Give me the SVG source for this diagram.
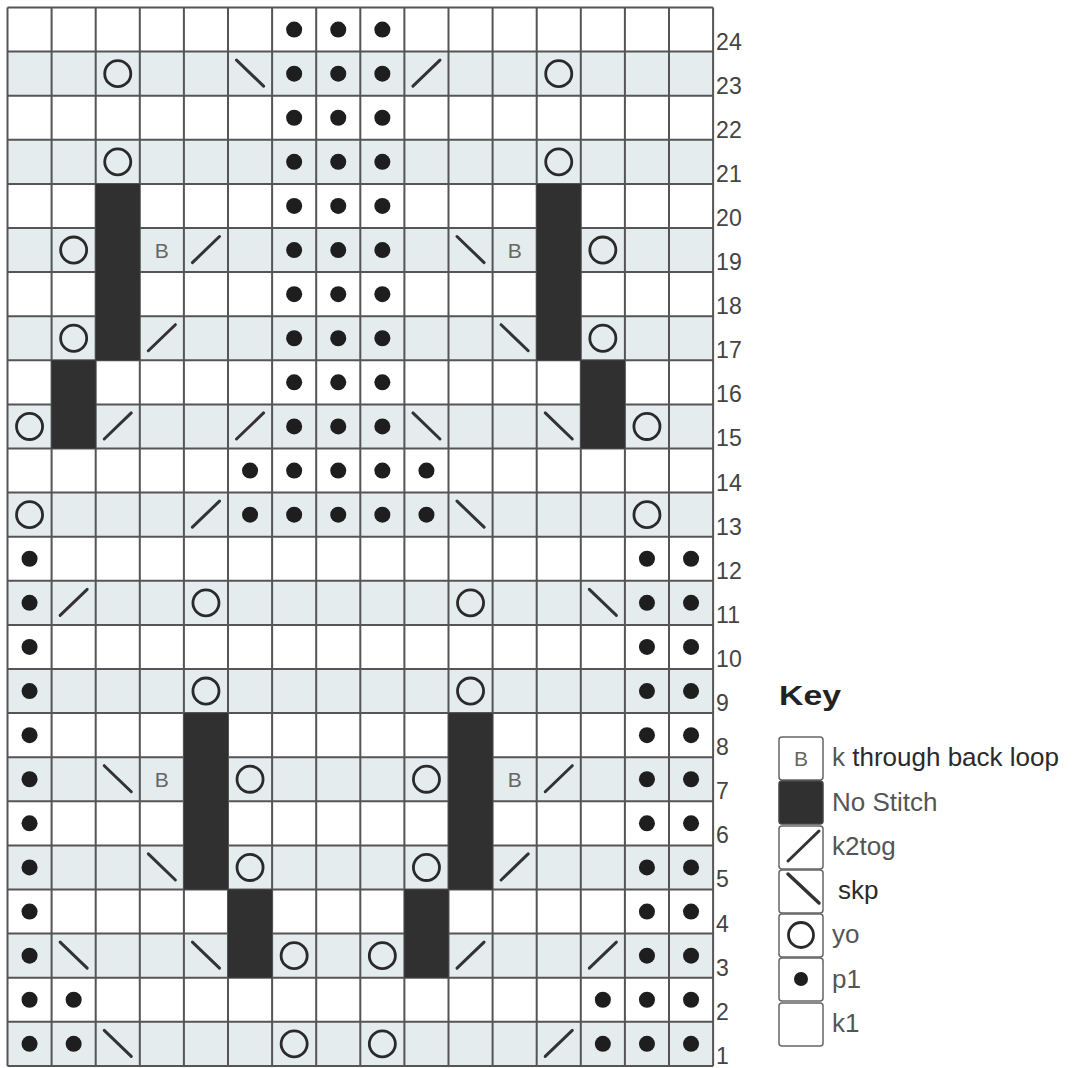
<svg xmlns="http://www.w3.org/2000/svg" width="1076" height="1068" viewBox="0 0 1076 1068">
<style>
.bg{fill:#e4ecee}
.ns{fill:#303030}
.grid{fill:none;stroke:#555;stroke-width:2}
.yo{fill:none;stroke:#2a2a2a;stroke-width:2.8}
.p{fill:#1e1e1e}
.ln{stroke:#333;stroke-width:3;stroke-linecap:round}
.b{font-family:"Liberation Sans",Arial,sans-serif;font-size:21px;fill:#666;text-anchor:middle}
.num{font-family:"Liberation Sans",Arial,sans-serif;font-size:23px;fill:#444}
.lbl{font-family:"Liberation Sans",Arial,sans-serif;font-size:26px;fill:#555}
.kb{fill:#fff;stroke:#666;stroke-width:1.5}
</style>
<defs>
<g id="s-yo"><circle cx="22" cy="22" r="13" class="yo"/></g>
<g id="s-p"><circle cx="22" cy="22" r="8" class="p"/></g>
<g id="s-k2"><line x1="8.5" y1="34.5" x2="35.5" y2="8.5" class="ln"/></g>
<g id="s-skp"><line x1="8.5" y1="8.5" x2="35.5" y2="34.5" class="ln"/></g>
<g id="s-B"><text x="22" y="30" class="b">B</text></g>
</defs>
<rect width="1076" height="1068" fill="#fff"/>
<g id="chart" transform="translate(7.5 7.5) scale(1.00227)">
<g id="row-bands">
<rect class="bg" x="0" y="44" width="704" height="44"/>
<rect class="bg" x="0" y="132" width="704" height="44"/>
<rect class="bg" x="0" y="220" width="704" height="44"/>
<rect class="bg" x="0" y="308" width="704" height="44"/>
<rect class="bg" x="0" y="396" width="704" height="44"/>
<rect class="bg" x="0" y="484" width="704" height="44"/>
<rect class="bg" x="0" y="572" width="704" height="44"/>
<rect class="bg" x="0" y="660" width="704" height="44"/>
<rect class="bg" x="0" y="748" width="704" height="44"/>
<rect class="bg" x="0" y="836" width="704" height="44"/>
<rect class="bg" x="0" y="924" width="704" height="44"/>
<rect class="bg" x="0" y="1012" width="704" height="44"/>
</g>
<path id="grid" class="grid" d="M0 0V1056M44 0V1056M88 0V1056M132 0V1056M176 0V1056M220 0V1056M264 0V1056M308 0V1056M352 0V1056M396 0V1056M440 0V1056M484 0V1056M528 0V1056M572 0V1056M616 0V1056M660 0V1056M704 0V1056M0 0H704M0 44H704M0 88H704M0 132H704M0 176H704M0 220H704M0 264H704M0 308H704M0 352H704M0 396H704M0 440H704M0 484H704M0 528H704M0 572H704M0 616H704M0 660H704M0 704H704M0 748H704M0 792H704M0 836H704M0 880H704M0 924H704M0 968H704M0 1012H704M0 1056H704"/>
<g id="no-stitch">
<rect class="ns" x="88" y="176" width="44" height="176"/>
<rect class="ns" x="528" y="176" width="44" height="176"/>
<rect class="ns" x="44" y="352" width="44" height="88"/>
<rect class="ns" x="572" y="352" width="44" height="88"/>
<rect class="ns" x="176" y="704" width="44" height="176"/>
<rect class="ns" x="440" y="704" width="44" height="176"/>
<rect class="ns" x="220" y="880" width="44" height="88"/>
<rect class="ns" x="396" y="880" width="44" height="88"/>
</g>
<g id="stitches">
<!-- row 24 -->
<use href="#s-p" x="264" y="0"/><use href="#s-p" x="308" y="0"/><use href="#s-p" x="352" y="0"/>
<!-- row 23 -->
<use href="#s-yo" x="88" y="44"/><use href="#s-skp" x="220" y="44"/><use href="#s-p" x="264" y="44"/><use href="#s-p" x="308" y="44"/><use href="#s-p" x="352" y="44"/><use href="#s-k2" x="396" y="44"/><use href="#s-yo" x="528" y="44"/>
<!-- row 22 -->
<use href="#s-p" x="264" y="88"/><use href="#s-p" x="308" y="88"/><use href="#s-p" x="352" y="88"/>
<!-- row 21 -->
<use href="#s-yo" x="88" y="132"/><use href="#s-p" x="264" y="132"/><use href="#s-p" x="308" y="132"/><use href="#s-p" x="352" y="132"/><use href="#s-yo" x="528" y="132"/>
<!-- row 20 -->
<use href="#s-p" x="264" y="176"/><use href="#s-p" x="308" y="176"/><use href="#s-p" x="352" y="176"/>
<!-- row 19 -->
<use href="#s-yo" x="44" y="220"/><use href="#s-B" x="132" y="220"/><use href="#s-k2" x="176" y="220"/><use href="#s-p" x="264" y="220"/><use href="#s-p" x="308" y="220"/><use href="#s-p" x="352" y="220"/><use href="#s-skp" x="440" y="220"/><use href="#s-B" x="484" y="220"/><use href="#s-yo" x="572" y="220"/>
<!-- row 18 -->
<use href="#s-p" x="264" y="264"/><use href="#s-p" x="308" y="264"/><use href="#s-p" x="352" y="264"/>
<!-- row 17 -->
<use href="#s-yo" x="44" y="308"/><use href="#s-k2" x="132" y="308"/><use href="#s-p" x="264" y="308"/><use href="#s-p" x="308" y="308"/><use href="#s-p" x="352" y="308"/><use href="#s-skp" x="484" y="308"/><use href="#s-yo" x="572" y="308"/>
<!-- row 16 -->
<use href="#s-p" x="264" y="352"/><use href="#s-p" x="308" y="352"/><use href="#s-p" x="352" y="352"/>
<!-- row 15 -->
<use href="#s-yo" x="0" y="396"/><use href="#s-k2" x="88" y="396"/><use href="#s-k2" x="220" y="396"/><use href="#s-p" x="264" y="396"/><use href="#s-p" x="308" y="396"/><use href="#s-p" x="352" y="396"/><use href="#s-skp" x="396" y="396"/><use href="#s-skp" x="528" y="396"/><use href="#s-yo" x="616" y="396"/>
<!-- row 14 -->
<use href="#s-p" x="220" y="440"/><use href="#s-p" x="264" y="440"/><use href="#s-p" x="308" y="440"/><use href="#s-p" x="352" y="440"/><use href="#s-p" x="396" y="440"/>
<!-- row 13 -->
<use href="#s-yo" x="0" y="484"/><use href="#s-k2" x="176" y="484"/><use href="#s-p" x="220" y="484"/><use href="#s-p" x="264" y="484"/><use href="#s-p" x="308" y="484"/><use href="#s-p" x="352" y="484"/><use href="#s-p" x="396" y="484"/><use href="#s-skp" x="440" y="484"/><use href="#s-yo" x="616" y="484"/>
<!-- row 12 -->
<use href="#s-p" x="0" y="528"/><use href="#s-p" x="616" y="528"/><use href="#s-p" x="660" y="528"/>
<!-- row 11 -->
<use href="#s-p" x="0" y="572"/><use href="#s-k2" x="44" y="572"/><use href="#s-yo" x="176" y="572"/><use href="#s-yo" x="440" y="572"/><use href="#s-skp" x="572" y="572"/><use href="#s-p" x="616" y="572"/><use href="#s-p" x="660" y="572"/>
<!-- row 10 -->
<use href="#s-p" x="0" y="616"/><use href="#s-p" x="616" y="616"/><use href="#s-p" x="660" y="616"/>
<!-- row 9 -->
<use href="#s-p" x="0" y="660"/><use href="#s-yo" x="176" y="660"/><use href="#s-yo" x="440" y="660"/><use href="#s-p" x="616" y="660"/><use href="#s-p" x="660" y="660"/>
<!-- row 8 -->
<use href="#s-p" x="0" y="704"/><use href="#s-p" x="616" y="704"/><use href="#s-p" x="660" y="704"/>
<!-- row 7 -->
<use href="#s-p" x="0" y="748"/><use href="#s-skp" x="88" y="748"/><use href="#s-B" x="132" y="748"/><use href="#s-yo" x="220" y="748"/><use href="#s-yo" x="396" y="748"/><use href="#s-B" x="484" y="748"/><use href="#s-k2" x="528" y="748"/><use href="#s-p" x="616" y="748"/><use href="#s-p" x="660" y="748"/>
<!-- row 6 -->
<use href="#s-p" x="0" y="792"/><use href="#s-p" x="616" y="792"/><use href="#s-p" x="660" y="792"/>
<!-- row 5 -->
<use href="#s-p" x="0" y="836"/><use href="#s-skp" x="132" y="836"/><use href="#s-yo" x="220" y="836"/><use href="#s-yo" x="396" y="836"/><use href="#s-k2" x="484" y="836"/><use href="#s-p" x="616" y="836"/><use href="#s-p" x="660" y="836"/>
<!-- row 4 -->
<use href="#s-p" x="0" y="880"/><use href="#s-p" x="616" y="880"/><use href="#s-p" x="660" y="880"/>
<!-- row 3 -->
<use href="#s-p" x="0" y="924"/><use href="#s-skp" x="44" y="924"/><use href="#s-skp" x="176" y="924"/><use href="#s-yo" x="264" y="924"/><use href="#s-yo" x="352" y="924"/><use href="#s-k2" x="440" y="924"/><use href="#s-k2" x="572" y="924"/><use href="#s-p" x="616" y="924"/><use href="#s-p" x="660" y="924"/>
<!-- row 2 -->
<use href="#s-p" x="0" y="968"/><use href="#s-p" x="44" y="968"/><use href="#s-p" x="572" y="968"/><use href="#s-p" x="616" y="968"/><use href="#s-p" x="660" y="968"/>
<!-- row 1 -->
<use href="#s-p" x="0" y="1012"/><use href="#s-p" x="44" y="1012"/><use href="#s-skp" x="88" y="1012"/><use href="#s-yo" x="264" y="1012"/><use href="#s-yo" x="352" y="1012"/><use href="#s-k2" x="528" y="1012"/><use href="#s-p" x="572" y="1012"/><use href="#s-p" x="616" y="1012"/><use href="#s-p" x="660" y="1012"/>
</g>
<g id="row-numbers" class="num">
<text x="707" y="42">24</text>
<text x="707" y="86">23</text>
<text x="707" y="130">22</text>
<text x="707" y="174">21</text>
<text x="707" y="218">20</text>
<text x="707" y="262">19</text>
<text x="707" y="306">18</text>
<text x="707" y="350">17</text>
<text x="707" y="394">16</text>
<text x="707" y="438">15</text>
<text x="707" y="482">14</text>
<text x="707" y="526">13</text>
<text x="707" y="570">12</text>
<text x="707" y="614">11</text>
<text x="707" y="658">10</text>
<text x="707" y="702">9</text>
<text x="707" y="746">8</text>
<text x="707" y="790">7</text>
<text x="707" y="834">6</text>
<text x="707" y="878">5</text>
<text x="707" y="922">4</text>
<text x="707" y="966">3</text>
<text x="707" y="1010">2</text>
<text x="707" y="1054">1</text>
</g>
</g>
<g id="key">
<text x="779" y="705" font-family="'Liberation Sans',Arial,sans-serif" font-size="28" font-weight="bold" fill="#222" textLength="62" lengthAdjust="spacingAndGlyphs">Key</text>
<g id="key-tbl">
<rect class="kb" x="779" y="737" width="44" height="43" rx="3"/>
<text x="801" y="766" class="b">B</text>
<text x="832" y="766" class="lbl"><tspan fill="#555">k </tspan><tspan fill="#2a2a2a">through back loop</tspan></text>
</g>
<g id="key-ns">
<rect x="779" y="781" width="44" height="43" rx="3" fill="#303030" stroke="#444" stroke-width="1.5"/>
<text x="832" y="811" class="lbl">No Stitch</text>
</g>
<g id="key-k2tog">
<rect class="kb" x="779" y="826" width="44" height="43" rx="3"/>
<line x1="788" y1="861" x2="819" y2="831" class="ln"/>
<text x="832" y="855" class="lbl">k2tog</text>
</g>
<g id="key-skp">
<rect class="kb" x="779" y="870" width="44" height="43" rx="3"/>
<line x1="788" y1="874" x2="819" y2="903" class="ln" style="stroke-width:3.5"/>
<text x="838" y="899" class="lbl" style="fill:#2a2a2a">skp</text>
</g>
<g id="key-yo">
<rect class="kb" x="779" y="914" width="44" height="43" rx="3"/>
<circle cx="801" cy="935" r="12.5" class="yo"/>
<text x="832" y="943" class="lbl">yo</text>
</g>
<g id="key-p1">
<rect class="kb" x="779" y="958" width="44" height="43" rx="3"/>
<circle cx="801" cy="979" r="7" class="p"/>
<text x="832" y="988" class="lbl">p1</text>
</g>
<g id="key-k1">
<rect class="kb" x="779" y="1003" width="44" height="43" rx="3"/>
<text x="832" y="1032" class="lbl">k1</text>
</g>
</g>
</svg>
